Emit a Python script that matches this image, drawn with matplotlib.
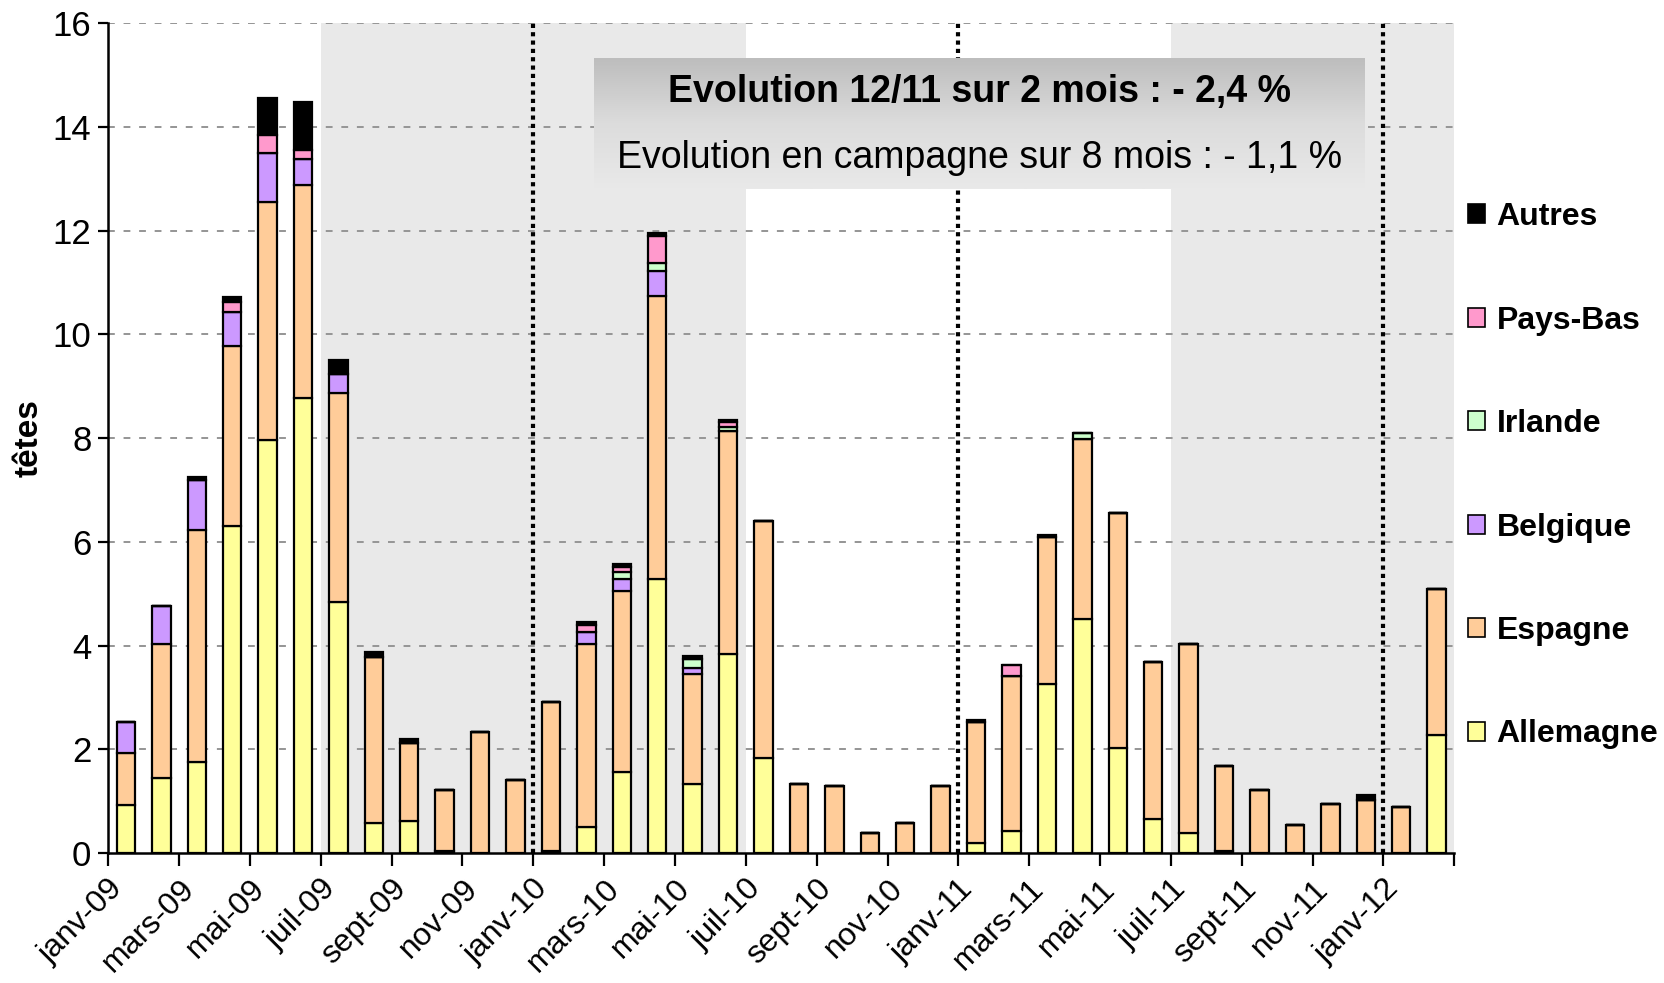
import numpy as np
import matplotlib
matplotlib.use('Agg')
import matplotlib.pyplot as plt
from matplotlib.patches import Patch

plt.rcParams['font.family'] = ['Liberation Sans', 'DejaVu Sans']

# monthly data, janv-09 .. fev-12 (38 months)
allemagne = [0.93, 1.45, 1.75, 6.30, 7.96, 8.77, 4.83, 0.58, 0.62, 0.04, 0.0, 0.0,
             0.04, 0.50, 1.56, 5.29, 1.34, 3.84, 1.83, 0.0, 0.0, 0.0, 0.0, 0.0,
             0.19, 0.42, 3.26, 4.52, 2.03, 0.65, 0.38, 0.04, 0.0, 0.0, 0.0, 0.0,
             0.0, 2.27]
espagne = [1.00, 2.57, 4.47, 3.47, 4.58, 4.11, 4.04, 3.20, 1.51, 1.18, 2.33, 1.41,
           2.87, 3.52, 3.50, 5.45, 2.11, 4.29, 4.58, 1.33, 1.29, 0.38, 0.58, 1.29,
           2.33, 3.00, 2.83, 3.46, 4.52, 3.03, 3.64, 1.64, 1.21, 0.54, 0.94, 1.03,
           0.89, 2.82]
belgique = [0.60, 0.75, 0.97, 0.65, 0.96, 0.50, 0.37, 0, 0, 0, 0, 0,
            0, 0.25, 0.23, 0.47, 0.11, 0, 0, 0, 0, 0, 0, 0,
            0, 0, 0, 0, 0, 0, 0, 0, 0, 0, 0, 0,
            0, 0]
irlande = [0, 0, 0, 0, 0, 0, 0, 0, 0, 0, 0, 0,
           0, 0, 0.13, 0.16, 0.19, 0.08, 0, 0, 0, 0, 0, 0,
           0, 0, 0, 0.12, 0, 0, 0, 0, 0, 0, 0, 0,
           0, 0]
pays_bas = [0, 0, 0, 0.20, 0.34, 0.18, 0, 0, 0, 0, 0, 0,
            0, 0.13, 0.10, 0.52, 0, 0.09, 0, 0, 0, 0, 0, 0,
            0, 0.20, 0, 0, 0, 0, 0, 0, 0, 0, 0, 0,
            0, 0]
autres = [0, 0, 0.05, 0.10, 0.71, 0.91, 0.27, 0.09, 0.06, 0, 0, 0,
          0, 0.05, 0.05, 0.06, 0.04, 0.05, 0, 0, 0, 0, 0, 0,
          0.04, 0, 0.05, 0, 0, 0, 0, 0, 0, 0, 0, 0.09,
          0, 0]

tick_labels = ['janv-09', 'mars-09', 'mai-09', 'juil-09', 'sept-09', 'nov-09',
               'janv-10', 'mars-10', 'mai-10', 'juil-10', 'sept-10', 'nov-10',
               'janv-11', 'mars-11', 'mai-11', 'juil-11', 'sept-11', 'nov-11',
               'janv-12', '']

series = ['Allemagne', 'Espagne', 'Belgique', 'Irlande', 'Pays-Bas', 'Autres']
values = [allemagne, espagne, belgique, irlande, pays_bas, autres]
colors = ['#FFFF99', '#FFCC99', '#CC99FF', '#CCFFCC', '#FF99CC', '#000000']

n = len(allemagne)
x = np.arange(n)

fig = plt.figure(figsize=(16.64, 9.83), dpi=100)
ax = fig.add_axes([0.065, 0.1322, 0.809, 0.8444])

# campaign shading (juil-09 -> juin-10, juil-11 -> end)
ax.axvspan(5.5, 17.5, color='#e9e9e9', zorder=0, lw=0)
ax.axvspan(29.5, n - 0.5, color='#e9e9e9', zorder=0, lw=0)

# horizontal grid
for g in range(2, 17, 2):
    ax.axhline(g, color='#959595', lw=1.4, ls=(0, (3.5, 4.5)), zorder=1)

bottom = np.zeros(n)
for name, vals, col in zip(series, values, colors):
    vals = np.array(vals)
    ax.bar(x, vals, width=0.52, bottom=bottom, color=col, edgecolor='black',
           linewidth=1.6, zorder=2)
    bottom += vals

# year separators
for xs in [11.5, 23.5, 35.5]:
    ax.plot([xs, xs], [0, 16], color='black', lw=3, ls=(0, (1, 1)), zorder=3)

ax.set_xlim(-0.5, n - 0.5)
ax.set_ylim(0, 16)
ax.set_yticks(range(0, 17, 2))
ax.tick_params(axis='y', labelsize=25, length=7, width=1.6, direction='out', pad=5)
ax.set_xticks(np.arange(-0.5, n, 2))
ax.set_xticklabels(tick_labels, rotation=45, ha='right', rotation_mode='anchor',
                   fontsize=23)
ax.tick_params(axis='x', length=9, width=1.6, direction='out', pad=6)

for s in ['top', 'right']:
    ax.spines[s].set_visible(False)
for s in ['left', 'bottom']:
    ax.spines[s].set_linewidth(1.8)

ax.set_ylabel('têtes', fontsize=24, fontweight='bold', labelpad=6)

# legend on the right, top to bottom reversed
handles = [Patch(facecolor=c, edgecolor='black', linewidth=1.2) for c in colors[::-1]]
fig.legend(handles, series[::-1], loc='center left', bbox_to_anchor=(0.882, 0.516),
           frameon=False, prop={'weight': 'bold', 'size': 23},
           handlelength=0.55, handleheight=0.55, handletextpad=0.35,
           labelspacing=2.3, borderpad=0, borderaxespad=0)

# gradient text box
bax = fig.add_axes([0.357, 0.8077, 0.463, 0.1333])
grad = np.linspace(0, 1, 100).reshape(-1, 1)
bax.imshow(grad, cmap=matplotlib.colors.LinearSegmentedColormap.from_list(
    'g', ['#bdbdbd', '#dcdcdc', '#e9e9e9']), aspect='auto', extent=[0, 1, 0, 1],
    origin='upper')
bax.set_axis_off()
bax.text(0.5, 0.74, 'Evolution 12/11 sur 2 mois : - 2,4 %', ha='center', va='center',
         fontsize=27, fontweight='bold')
bax.text(0.5, 0.24, 'Evolution en campagne sur 8 mois : - 1,1 %', ha='center',
         va='center', fontsize=27)

fig.savefig('out.png', dpi=100)
